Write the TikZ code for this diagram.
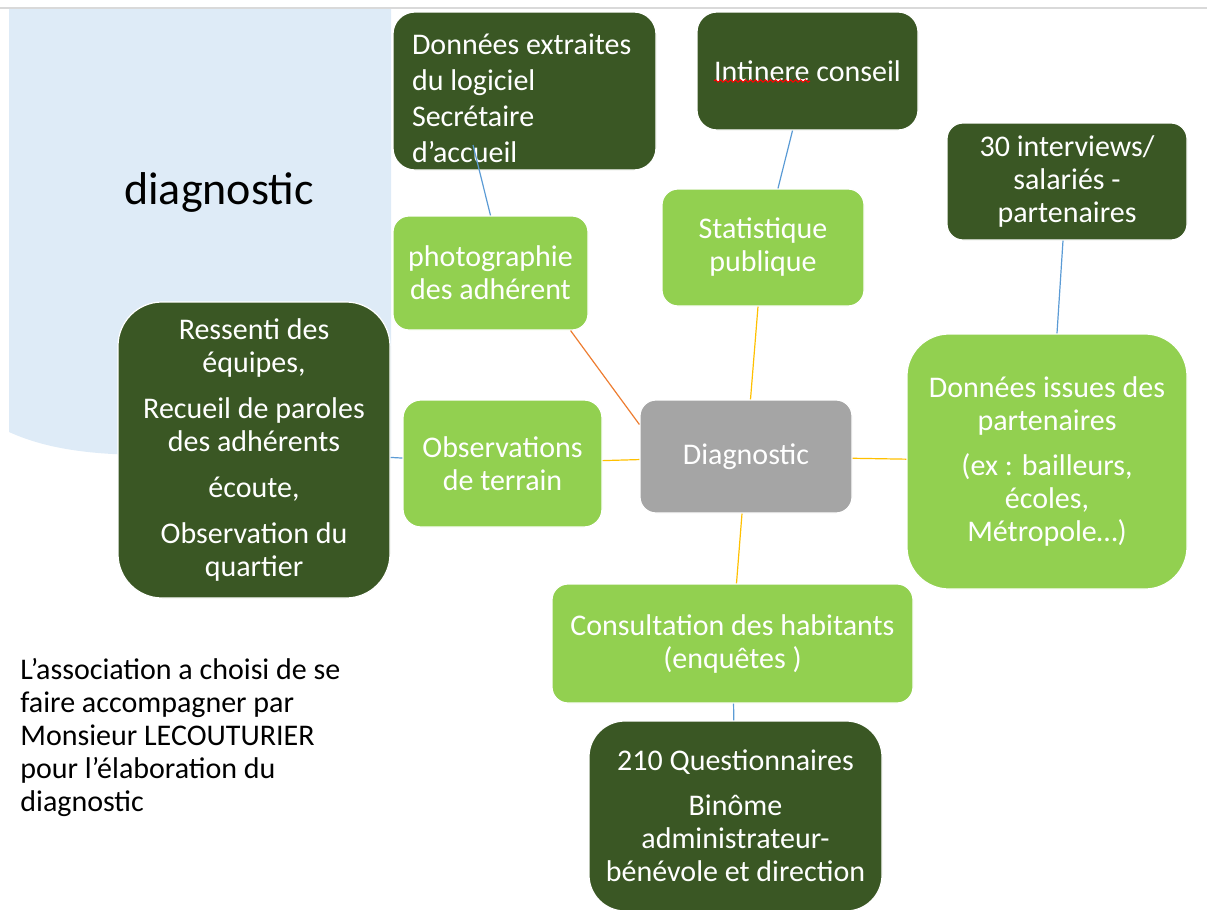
\documentclass[tikz,border=0pt]{standalone}
\usepackage{fontspec}
\setmainfont{Carlito}
\usetikzlibrary{calc,decorations.pathmorphing}

\definecolor{darkgreen}{HTML}{3A5724}
\definecolor{lightgreen}{HTML}{92D050}
\definecolor{boxgray}{HTML}{A5A5A5}
\definecolor{paleblue}{HTML}{DEEBF7}
\definecolor{lineblue}{HTML}{5B9BD5}
\definecolor{linegold}{HTML}{FFC000}
\definecolor{lineorange}{HTML}{ED7D31}

\tikzset{
  mapbox/.style={rectangle, draw=white, line width=0.6pt, text=white, align=center,
    inner sep=0pt, font=\fontsize{15}{16.5}\selectfont},
  darkbox/.style={mapbox, fill=darkgreen},
  lightbox/.style={mapbox, fill=lightgreen},
  graybox/.style={mapbox, fill=boxgray},
  link/.style={line width=0.6pt},
}

\begin{document}
\begin{tikzpicture}[x=0.5pt, y=-0.5pt]

  \useasboundingbox (0,0) rectangle (1207,910);

  % background
  \fill[paleblue] (9,9) -- (391,9) -- (391,455) -- (150,455)
    .. controls (80,455) and (40,446) .. (9,432) -- cycle;
  \draw[black!15, line width=0.8pt] (0,8) -- (1207,8);
  \node[font=\fontsize{23}{27}\selectfont] (title) at (219,192) {diagnostic};

  % nodes
  \node[darkbox, minimum width=131.5pt, minimum height=79pt, rounded corners=11pt,
    text width=112.5pt, inner xsep=9.5pt, align=flush left, font=\fontsize{15}{18}\selectfont]
    (extr) at (524.5,91) {\mbox{}\\Données extraites\\du logiciel\\Secrétaire\\d’accueil};
  \node[darkbox, minimum width=110.5pt, minimum height=59pt, rounded corners=10pt]
    (intin) at (807.5,71) {Intinere conseil};
  \node[lightbox, minimum width=97.5pt, minimum height=57pt, rounded corners=8pt]
    (photo) at (490.5,273) {photographie\\des adhérent};
  \node[lightbox, minimum width=101pt, minimum height=58.5pt, rounded corners=8pt]
    (stat) at (763,247.5) {Statistique\\publique};
  \node[darkbox, minimum width=120pt, minimum height=58.5pt, rounded corners=8pt]
    (interv) at (1067,181.5) {30 interviews/\\salariés -\\partenaires};
  \node[lightbox, minimum width=140pt, minimum height=127.5pt, rounded corners=21pt]
    (partn) at (1047,461.5) {Données issues des\\partenaires\\[6pt](ex : bailleurs,\\écoles,\\Métropole…)};
  \node[graybox, minimum width=106pt, minimum height=56.5pt, rounded corners=8pt]
    (diag) at (746,456.5) {Diagnostic};
  \node[lightbox, minimum width=99.5pt, minimum height=63.5pt, rounded corners=9pt]
    (obs) at (502.5,463.5) {Observations\\de terrain};
  \node[darkbox, minimum width=136pt, minimum height=148pt, rounded corners=22pt]
    (ress) at (254,450) {Ressenti des\\équipes,\\[6.5pt]Recueil de paroles\\des adhérents\\[6.5pt]écoute,\\[6.5pt]Observation du\\quartier};
  \node[lightbox, minimum width=180.5pt, minimum height=59.5pt, rounded corners=8pt]
    (consult) at (732.5,643.5) {Consultation des habitants\\(enquêtes )};
  \node[darkbox, minimum width=146.5pt, minimum height=95pt, rounded corners=18pt]
    (quest) at (735.5,816) {210 Questionnaires\\[6pt]Binôme\\administrateur-\\bénévole et direction};

  \node[anchor=west, align=left, inner sep=0pt, font=\fontsize{15}{16.5}\selectfont]
    (note) at (20,737.5) {L’association a choisi de se\\faire accompagner par\\Monsieur LECOUTURIER\\pour l’élaboration du\\diagnostic};

  % spelling mark
  \draw[red, line width=0.5pt, decorate, decoration={snake, amplitude=0.6pt, segment length=2.5pt}]
    ($(intin.center)+(-93.5,10)$) -- ($(intin.center)+(2.5,10)$);

  % lines
  \coordinate (extrend) at (473,145);
  \draw[link, lineblue] (photo.north) -- (extrend);
  \draw[link, lineblue] ([xshift=-7.5pt]intin.south) -- ([xshift=7.5pt]stat.north);
  \draw[link, lineblue] ([xshift=-2pt]interv.south) -- ([xshift=5pt]partn.north);
  \draw[link, lineblue] (ress) -- (obs);
  \draw[link, lineblue] (consult) -- (quest);
  \draw[link, lineorange] ([xshift=-9pt]photo.south east) -- ([yshift=16pt]diag.west);
  \draw[link, linegold] ([xshift=-2.5pt]stat.south) -- ([xshift=2.25pt]diag.north);
  \draw[link, linegold] (obs) -- (diag);
  \draw[link, linegold] (diag) -- (partn);
  \draw[link, linegold] ([xshift=-2pt]diag.south) -- ([xshift=2pt]consult.north);

\end{tikzpicture}
\end{document}
